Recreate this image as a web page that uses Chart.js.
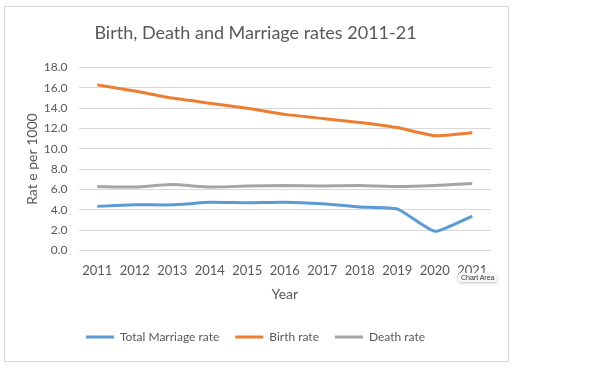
<!DOCTYPE html>
<html>
<head>
<meta charset="utf-8">
<script src="https://cdn.jsdelivr.net/npm/chart.js@4/dist/chart.umd.min.js"></script>
<style>
  html, body { margin: 0; padding: 0; background: #fff; }
  #frame {
    position: absolute; left: 4px; top: 6px;
    width: 503px; height: 354px;
    border: 1px solid #d9d9d9;
  }
  #tip {
    position: absolute; left: 458px; top: 273px;
    font: 7px 'Liberation Sans', sans-serif; color: #333;
    background: #f7f7f7; padding: 1px 3px;
    box-shadow: 0 1px 3px rgba(0,0,0,0.25); border-radius: 2px;
  }
</style>
</head>
<body>
<div id="frame"><canvas id="rates" width="503" height="354"></canvas></div>
<div id="tip">Chart Area</div>
<script>
// ---- data ----
const years = ['2011', '2012', '2013', '2014', '2015', '2016', '2017', '2018', '2019', '2020', '2021'];
const marriageRate = [4.35, 4.5, 4.5, 4.75, 4.7, 4.75, 4.6, 4.3, 4.1, 1.9, 3.4];
const birthRate = [16.3, 15.7, 15.0, 14.5, 14.0, 13.4, 13.0, 12.6, 12.1, 11.3, 11.6];
const deathRate = [6.3, 6.25, 6.5, 6.25, 6.35, 6.4, 6.35, 6.4, 6.3, 6.4, 6.6];

const FONT = "Lato, 'Liberation Sans', sans-serif";
const textGrey = '#595959';
const gridGrey = '#d9d9d9';

function series(label, data, color) {
  return {
    label,
    data,
    borderColor: color,
    backgroundColor: color,
    borderWidth: 3,
    pointRadius: 0,
    tension: 0.15,
  };
}

new Chart(document.getElementById('rates'), {
  type: 'line',
  data: {
    labels: years,
    datasets: [
      series('Total Marriage rate', marriageRate, '#5b9bd5'),
      series('Birth rate', birthRate, '#ed7d31'),
      series('Death rate', deathRate, '#a5a5a5'),
    ],
  },
  options: {
    responsive: false,
    animation: false,
    layout: { padding: { left: 15, right: 17, top: 8, bottom: 8 } },
    plugins: {
      title: {
        display: true,
        text: 'Birth, Death and Marriage rates 2011-21',
        color: textGrey,
        font: { family: FONT, size: 18, weight: 'normal' },
        padding: { top: 7, bottom: 24 },
      },
      legend: {
        position: 'bottom',
        labels: {
          color: textGrey,
          font: { family: FONT, size: 12 },
          boxWidth: 28,
          boxHeight: 3,
          padding: 16,
          generateLabels: chart => Chart.defaults.plugins.legend.labels.generateLabels(chart)
            .map(l => ({ ...l, lineWidth: 0 })),
        },
      },
      tooltip: { enabled: false },
    },
    scales: {
      x: {
        offset: true,
        grid: { display: false },
        border: { display: false },
        ticks: { color: textGrey, font: { family: FONT, size: 13 }, padding: 4, maxRotation: 0 },
        title: { display: true, text: 'Year', color: textGrey, font: { family: FONT, size: 14 }, padding: { top: 4, bottom: 12 } },
      },
      y: {
        min: 0,
        max: 18,
        grid: { color: gridGrey, drawTicks: false },
        border: { display: false },
        ticks: { stepSize: 2, color: textGrey, font: { family: FONT, size: 12 }, padding: 11, callback: v => v.toFixed(1) },
        title: { display: true, text: 'Rat e per 1000', color: textGrey, font: { family: FONT, size: 14 }, padding: { top: 4, bottom: -8 } },
      },
    },
  },
});
</script>
</body>
</html>
